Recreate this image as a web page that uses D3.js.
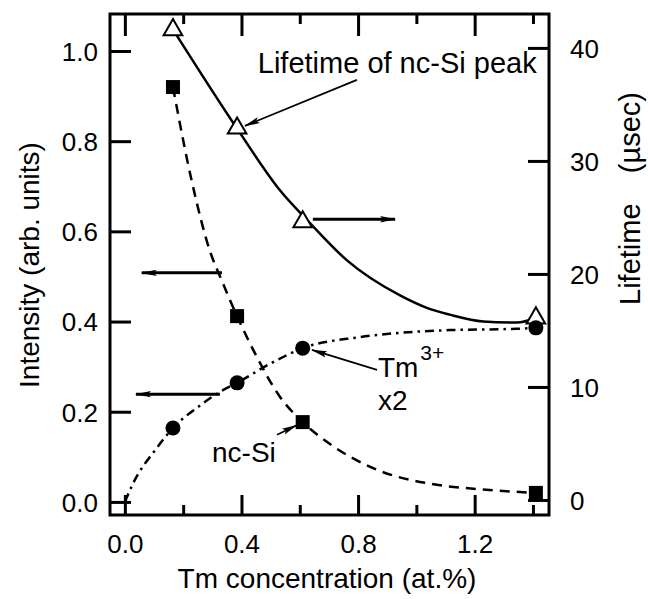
<!DOCTYPE html>
<html><head><meta charset="utf-8">
<script src="https://cdn.jsdelivr.net/npm/d3@7"></script>
<style>
body{margin:0;background:#fff;}
svg{display:block;font-family:"Liberation Sans",Arial,sans-serif;}
</style></head>
<body><svg id="c" width="648" height="599"></svg>
<script>
// ---- data ----
const conc = [0.165, 0.385, 0.61, 1.41];            // Tm concentration (at.%)
const lifetime = [41.6, 32.9, 24.6, 16.1];           // usec (right axis)
const ncSi = [0.92, 0.412, 0.177, 0.02];             // intensity (left axis)
const tm3 = [0.164, 0.264, 0.341, 0.386];            // intensity x2 (left axis)

// fitted guide curves
const lifeFitX = [0.161, 0.384, 0.532, 0.635, 0.762, 0.944, 1.036, 1.115, 1.229, 1.345, 1.41];
const lifeFitY = [41.8, 32.9, 27.4, 24.5, 21.2, 18.1, 17.0, 16.4, 15.8, 15.7, 16.1];
const ncFitX = [0.165, 0.23, 0.29, 0.333, 0.385, 0.45, 0.53, 0.61, 0.70, 0.87, 1.05, 1.22, 1.41];
const ncFitY = [0.92, 0.71, 0.56, 0.49, 0.412, 0.325, 0.235, 0.177, 0.13, 0.07, 0.04, 0.028, 0.02];
const tmFitX = [0.0, 0.025, 0.11, 0.165, 0.25, 0.326, 0.385, 0.50, 0.61, 0.80, 0.944, 1.115, 1.345, 1.41];
const tmFitY = [0.0, 0.037, 0.12, 0.164, 0.21, 0.244, 0.264, 0.307, 0.341, 0.365, 0.375, 0.381, 0.384, 0.386];

const xTicksMajor = [0.0, 0.4, 0.8, 1.2];
const xTicksMinor = [0.2, 0.6, 1.0, 1.4];
const yLeftTicks = [0.0, 0.2, 0.4, 0.6, 0.8, 1.0];
const yRightTicks = [0, 10, 20, 30, 40];

// ---- layout ----
const W = 648, H = 599;
const L = 110, T = 14, R = 549, B = 515;
const svg = d3.select("#c");
const x = d3.scaleLinear().domain([-0.051, 1.455]).range([L, R]);
const yL = d3.scaleLinear().domain([-0.029, 1.082]).range([B, T]);
const yR = d3.scaleLinear().domain([-1.33, 43.0]).range([B, T]);

const fs = 26;
const tickW = 3;

// defs: arrowhead
svg.append("defs").append("marker")
  .attr("id", "ah").attr("viewBox", "0 0 16 8").attr("refX", 15).attr("refY", 4)
  .attr("markerWidth", 16).attr("markerHeight", 8).attr("markerUnits", "userSpaceOnUse")
  .attr("orient", "auto")
  .append("path").attr("d", "M0,0.8 L16,4 L0,7.2 L3,4 Z").attr("fill", "#000");

// axes using d3 axis generators (ticks drawn inward)
const gB = svg.append("g").attr("transform", `translate(0,${B})`)
  .call(d3.axisBottom(x).tickValues(xTicksMajor).tickSize(-20).tickFormat(d3.format(".1f")));
const gBm = svg.append("g").attr("transform", `translate(0,${B})`)
  .call(d3.axisBottom(x).tickValues(xTicksMinor).tickSize(-10).tickFormat(""));
const gT = svg.append("g").attr("transform", `translate(0,${T})`)
  .call(d3.axisTop(x).tickValues(xTicksMajor).tickSize(-22).tickFormat(""));
const gTm = svg.append("g").attr("transform", `translate(0,${T})`)
  .call(d3.axisTop(x).tickValues(xTicksMinor).tickSize(-10).tickFormat(""));
const gL = svg.append("g").attr("transform", `translate(${L},0)`)
  .call(d3.axisLeft(yL).tickValues(yLeftTicks).tickSize(-21).tickFormat(d3.format(".1f")));
const gR = svg.append("g").attr("transform", `translate(${R},0)`)
  .call(d3.axisRight(yR).tickValues(yRightTicks).tickSize(-21).tickFormat(d3.format("d")));

[gB, gBm, gT, gTm, gL, gR].forEach(g => {
  g.select(".domain").remove();
  g.selectAll(".tick line").attr("stroke", "#000").attr("stroke-width", tickW);
  g.selectAll("text").attr("font-size", fs).attr("font-family", "Liberation Sans, Arial, sans-serif").attr("fill", "#000");
});
gB.selectAll("text").attr("dy", null).attr("y", 38);
gL.selectAll("text").attr("x", -12).attr("dy", "0.36em");
gR.selectAll("text").attr("x", 21).attr("dy", "0.36em");

// frame
svg.append("rect").attr("x", L).attr("y", T).attr("width", R - L).attr("height", B - T)
  .attr("fill", "none").attr("stroke", "#000").attr("stroke-width", 3);

// axis titles
svg.append("text").attr("x", 327).attr("y", 588).attr("text-anchor", "middle")
  .attr("font-size", 28).text("Tm concentration (at.%)");
svg.append("text").attr("transform", "translate(39,265) rotate(-90)").attr("text-anchor", "middle")
  .attr("font-size", 28).text("Intensity (arb. units)");
svg.append("text").attr("transform", "translate(640,305) rotate(-90)").attr("text-anchor", "start")
  .attr("font-size", 29).text("Lifetime");
svg.append("text").attr("transform", "translate(640,92) rotate(-90)").attr("text-anchor", "end")
  .attr("font-size", 29).text("(\u00b5sec)");

// curves
const lineGen = (xs, ys, ys_scale) => d3.line().curve(d3.curveMonotoneX)
  .x((d, i) => x(xs[i])).y((d, i) => ys_scale(ys[i]))(xs);

svg.append("path").attr("d", lineGen(lifeFitX, lifeFitY, yR))
  .attr("fill", "none").attr("stroke", "#000").attr("stroke-width", 2.5);
svg.append("path").attr("d", lineGen(ncFitX, ncFitY, yL))
  .attr("fill", "none").attr("stroke", "#000").attr("stroke-width", 2.5)
  .attr("stroke-dasharray", "10,7");
svg.append("path").attr("d", lineGen(tmFitX, tmFitY, yL))
  .attr("fill", "none").attr("stroke", "#000").attr("stroke-width", 2.5)
  .attr("stroke-dasharray", "9,5,2.5,5");

// markers
const tri = d3.symbol().type(d3.symbolTriangle).size(150);
svg.append("g").selectAll("path").data(conc).join("path")
  .attr("transform", (d, i) => `translate(${x(d)},${yR(lifetime[i])})`)
  .attr("d", tri).attr("fill", "#fff").attr("stroke", "#000").attr("stroke-width", 2);
svg.append("g").selectAll("rect").data(conc).join("rect")
  .attr("x", d => x(d) - 7).attr("y", (d, i) => yL(ncSi[i]) - 7)
  .attr("width", 14).attr("height", 14).attr("fill", "#000");
svg.append("g").selectAll("circle").data(conc).join("circle")
  .attr("cx", d => x(d)).attr("cy", (d, i) => yL(tm3[i])).attr("r", 7.5).attr("fill", "#000");

// annotations (data coordinates on left-axis scale)
const arrow = (x1, y1, x2, y2, w) => svg.append("line")
  .attr("x1", x(x1)).attr("y1", yL(y1)).attr("x2", x(x2)).attr("y2", yL(y2))
  .attr("stroke", "#000").attr("stroke-width", w).attr("marker-end", "url(#ah)");

svg.append("text").attr("x", x(0.456)).attr("y", yL(0.951)).attr("font-size", 29)
  .text("Lifetime of nc-Si peak");
arrow(0.796, 0.936, 0.412, 0.834, 1.8);
arrow(0.645, 0.627, 0.927, 0.627, 3);
arrow(0.333, 0.508, 0.058, 0.508, 3);
arrow(0.326, 0.239, 0.038, 0.239, 3);

const tmT = svg.append("text").attr("x", x(0.868)).attr("y", yL(0.277)).attr("font-size", 28);
tmT.append("tspan").text("Tm");
tmT.append("tspan").attr("font-size", 21).attr("dy", -17).attr("dx", 2).text("3+");
svg.append("text").attr("x", x(0.868)).attr("y", yL(0.204)).attr("font-size", 28).text("x2");
arrow(0.865, 0.293, 0.642, 0.337, 1.8);

svg.append("text").attr("x", x(0.299)).attr("y", yL(0.089)).attr("font-size", 28).text("nc-Si");
arrow(0.522, 0.149, 0.59, 0.170, 1.8);
</script></body></html>
